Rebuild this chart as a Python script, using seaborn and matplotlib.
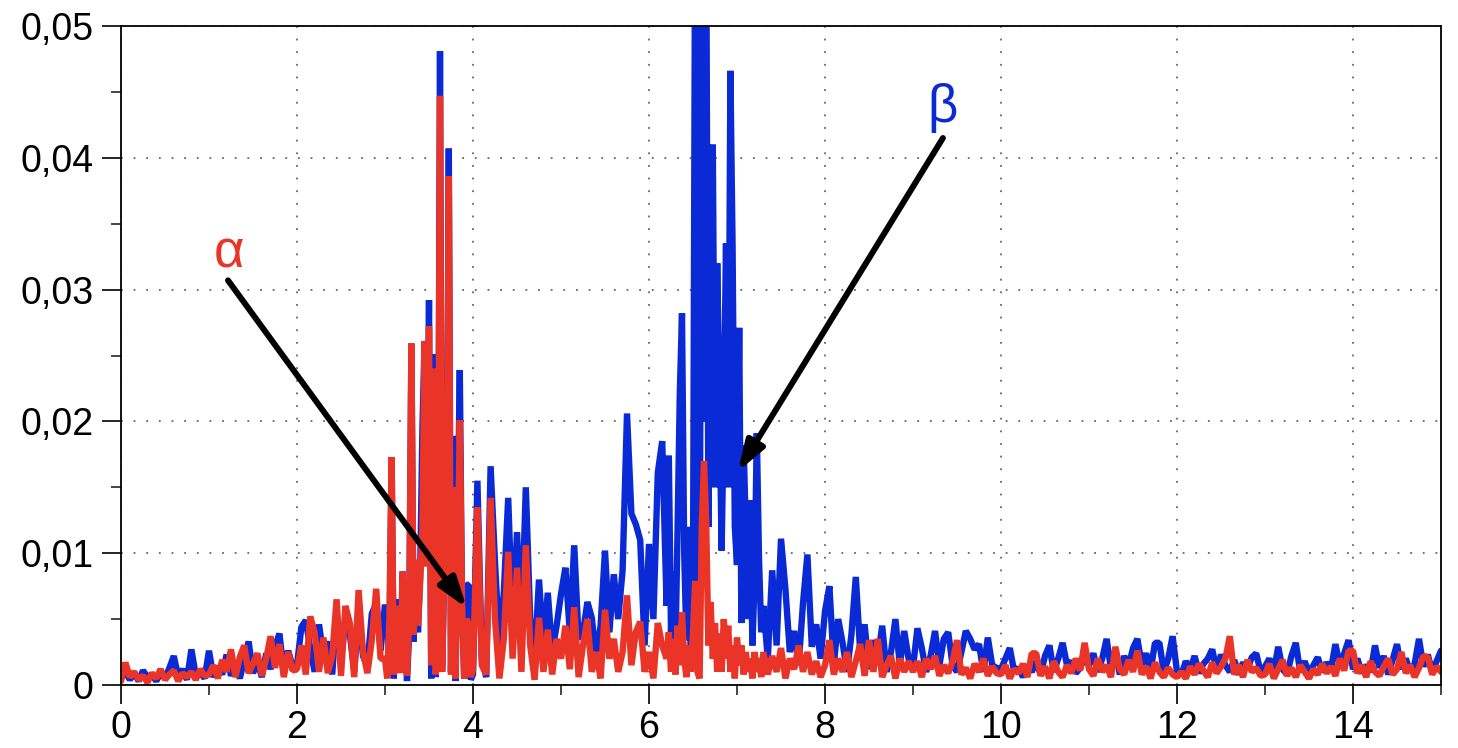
import numpy as np
import pandas as pd
import matplotlib
matplotlib.use("Agg")
import matplotlib.pyplot as plt
import seaborn as sns
from matplotlib.ticker import MultipleLocator, FuncFormatter

# ---------------- data (amplitudes in units of 1e-3) ----------------
# sampling segments: start and step of x for each block of values
seg_starts = [0.0, 3.0, 4.0, 6.2, 7.3]
seg_steps = [0.05, 0.025, 0.05, 0.025, 0.05]

# segment A: x = 0.00 .. 2.95
blue_a = [0.5, 1.0, 0.4, 0.9, 0.3, 1.1, 0.6, 0.8, 0.3, 0.9, 0.5, 1.3, 2.2, 0.6, 1.2, 0.4, 2.7, 0.7, 1.0, 0.5,
          2.6, 0.6, 1.4, 0.8, 2.3, 0.7, 1.6, 0.5, 1.9, 3.3, 0.9, 1.8, 0.6, 2.4, 1.2, 2.9, 3.9, 1.0, 2.6, 1.4,
          1.5, 4.4, 4.9, 2.8, 1.0, 4.6, 2.2, 3.3, 0.8, 5.5, 2.0, 4.8, 3.9, 1.0, 5.6, 2.2, 1.4, 5.4, 6.2, 2.6]
red_a = [0.3, 1.7, 0.6, 1.0, 0.4, 0.7, 0.2, 0.9, 0.5, 1.2, 0.4, 0.8, 1.1, 0.3, 0.9, 0.6, 1.0, 0.4, 1.2, 0.7,
         0.8, 1.5, 0.5, 1.9, 1.0, 2.7, 0.6, 2.1, 3.0, 0.9, 1.6, 2.4, 0.7, 2.0, 3.7, 1.3, 3.1, 0.6, 2.5, 1.1,
         1.2, 3.0, 0.8, 5.2, 4.0, 1.0, 3.6, 0.9, 2.2, 6.5, 0.7, 6.0, 4.7, 0.6, 7.2, 2.5, 0.9, 3.4, 7.3, 2.0]

# segment B: x = 3.000 .. 3.975
blue_b = [6.1, 5.0, 2.0, 17.3, 0.5, 6.5, 4.0, 1.0, 8.6, 4.5,
          0.3, 4.0, 25.9, 3.3, 8.0, 4.0, 8.5, 19.4, 26.1, 11.6,
          29.2, 0.5, 25.1, 0.6, 4.0, 48.1, 1.5, 9.2, 9.0, 40.7,
          1.0, 18.9, 0.3, 12.0, 23.9, 6.0, 0.5, 7.6, 7.6, 0.4]
red_b = [2.0, 0.5, 5.0, 17.3, 0.8, 6.0, 3.5, 0.9, 8.6, 4.0,
         0.7, 5.0, 25.9, 3.8, 9.5, 4.5, 7.9, 11.8, 26.1, 9.0,
         27.2, 1.5, 24.0, 0.8, 3.0, 44.7, 1.0, 8.9, 9.5, 38.6,
         0.8, 15.0, 0.5, 8.0, 20.1, 6.4, 0.5, 5.0, 4.7, 0.6]

# segment C: x = 4.00 .. 6.15
blue_c = [0.8, 15.5, 2.0, 0.6, 16.6, 9.3, 3.0, 7.0, 14.2, 4.5,
          11.6, 4.0, 15.0, 5.0, 2.0, 8.0, 3.0, 7.0, 2.5, 4.5,
          6.9, 8.9, 4.0, 10.6, 3.5, 4.0, 6.3, 5.1, 2.0, 4.5,
          10.2, 4.0, 8.4, 5.0, 8.7, 20.6, 13.0, 12.2, 11.0, 3.0,
          10.7, 5.0, 16.1, 18.5]
red_c = [1.2, 13.5, 1.5, 0.8, 14.2, 5.0, 0.5, 3.5, 10.1, 2.0,
         8.9, 1.0, 10.6, 3.0, 0.4, 5.1, 1.0, 4.2, 0.8, 3.5,
         2.0, 4.5, 1.2, 5.9, 0.6, 3.0, 5.0, 1.0, 2.5, 0.5,
         5.7, 2.0, 3.5, 1.0, 2.5, 6.8, 1.5, 4.0, 4.8, 1.0,
         2.5, 0.5, 4.7, 3.0]

# segment D: x = 6.200 .. 7.275
blue_d = [6.0, 17.4, 4.0, 8.6, 2.5, 12.0, 22.1, 28.2, 10.0, 3.4,
          12.0, 2.5, 8.0, 60.0, 8.0, 1.5, 62.0, 20.0, 58.0, 12.0,
          35.0, 41.0, 15.0, 32.0, 22.0, 10.2, 20.0, 33.5, 15.0, 46.6,
          33.1, 12.0, 9.1, 27.1, 4.7, 18.2, 12.0, 5.0, 14.0, 3.0,
          8.0, 19.1, 9.6, 4.0]
red_d = [2.0, 4.0, 1.0, 3.5, 0.8, 4.5, 1.5, 5.5, 2.0, 0.6,
         3.0, 1.0, 4.0, 7.9, 1.0, 0.5, 12.0, 17.0, 12.3, 3.0,
         6.3, 2.0, 4.7, 1.0, 3.9, 1.0, 5.0, 2.0, 4.5, 1.0,
         3.0, 0.5, 3.6, 1.5, 3.0, 0.8, 2.5, 1.0, 2.0, 0.5,
         2.5, 1.0, 2.0, 0.6]

# segment E: x = 7.30 .. 15.00
blue_e = [6.0, 2.0, 8.7, 3.0, 11.1, 7.3, 2.5, 4.1, 1.5, 6.2, 9.9, 2.9, 4.6, 2.0,
          5.6, 7.5, 1.5, 5.0, 3.2, 1.0, 3.8, 8.2, 2.5, 4.6, 1.2, 3.4, 2.0, 4.5, 1.0, 2.5, 5.0, 1.5, 4.1, 2.0,
          1.3, 4.3, 2.8, 1.0, 2.2, 4.1, 1.5, 3.5, 4.0, 1.5, 1.0, 2.5, 4.1, 3.5, 2.7, 3.1, 1.0, 3.6, 1.5, 1.3,
          1.2, 2.0, 2.8, 1.0, 1.3, 0.6, 1.5, 1.0, 1.8, 0.8, 2.2, 3.0, 1.0, 2.0, 3.2, 1.5, 1.8, 0.9, 1.3, 2.1,
          1.5, 2.4, 1.0, 2.0, 3.5, 1.2, 2.6, 0.8, 2.2, 1.4, 2.8, 3.5, 1.5, 2.4, 1.1, 3.2, 3.2, 1.0, 2.0, 3.7,
          1.0, 0.8, 1.8, 1.2, 2.2, 0.9, 1.6, 2.0, 2.7, 1.1, 2.3, 1.5, 1.0, 1.9, 0.8, 1.7, 1.2, 2.1, 2.4, 1.0,
          1.4, 2.0, 1.0, 2.9, 1.2, 0.8, 2.2, 3.2, 1.0, 1.8, 0.9, 1.5, 2.1, 1.0, 1.7, 1.2, 3.1, 1.5, 2.4, 3.4,
          1.2, 2.0, 0.9, 1.5, 1.0, 3.0, 1.3, 2.2, 0.8, 1.9, 3.1, 1.2, 2.0, 1.0, 1.6, 3.5, 1.4, 2.3, 1.0, 1.8, 2.6]
red_e = [2.5, 0.8, 2.2, 1.0, 2.8, 0.5, 2.0, 1.2, 3.0, 1.0, 2.5, 0.8, 1.8, 0.6,
         1.5, 3.4, 0.8, 2.0, 1.0, 2.5, 0.6, 1.8, 3.1, 0.7, 3.4, 1.0, 3.5, 0.6, 1.5, 2.2, 0.5, 2.0, 1.0, 1.8,
         1.0, 1.8, 0.6, 2.0, 1.2, 2.2, 0.7, 1.5, 0.9, 1.8, 3.4, 0.8, 1.3, 0.5, 1.6, 1.0, 2.0, 0.7, 1.4, 0.9,
         0.8, 1.5, 0.5, 1.2, 0.9, 1.6, 0.6, 2.4, 2.4, 0.7, 1.4, 0.5, 1.8, 1.0, 0.6, 1.5, 0.9, 2.0, 1.1, 3.2,
         1.2, 0.7, 2.0, 1.0, 1.5, 0.6, 2.9, 1.2, 0.8, 1.9, 1.0, 2.6, 0.8, 1.4, 0.5, 1.7, 1.0, 0.6, 1.3, 0.8,
         0.6, 1.0, 0.5, 1.4, 0.8, 1.6, 1.1, 0.6, 1.7, 0.9, 1.4, 2.0, 3.7, 0.8, 1.5, 0.6, 1.9, 1.0, 1.3, 0.7,
         0.8, 1.6, 0.5, 1.2, 1.9, 0.7, 1.3, 0.6, 1.5, 1.0, 0.5, 1.2, 0.8, 1.6, 0.9, 1.4, 0.7, 2.0, 1.1, 2.6,
         2.6, 0.9, 1.5, 0.6, 1.8, 1.0, 0.7, 1.4, 2.0, 0.8, 1.2, 2.5, 0.9, 1.5, 0.6, 1.3, 2.2, 2.1, 0.8, 1.4, 1.0]

x_ticks = [0, 2, 4, 6, 8, 10, 12, 14]
y_ticks = [0.0, 0.01, 0.02, 0.03, 0.04, 0.05]
label_alpha = "α"
label_beta = "β"

BLUE = "#0A2AD6"
RED = "#E93427"


def build(segments):
    xs, ys = [], []
    for start, step, vals in zip(seg_starts, seg_steps, segments):
        xs.append(start + step * np.arange(len(vals)))
        ys.append(np.asarray(vals) * 1e-3)
    return pd.DataFrame({"x": np.concatenate(xs), "y": np.concatenate(ys)})


df_blue = build([blue_a, blue_b, blue_c, blue_d, blue_e])
df_red = build([red_a, red_b, red_c, red_d, red_e])

# ---------------- figure ----------------
sns.set_style("ticks")
plt.rcParams["font.family"] = ["Liberation Sans", "DejaVu Sans"]

fig = plt.figure(figsize=(14.58, 7.48), dpi=100)
ax = fig.add_axes([121 / 1458, 63 / 748, 1320 / 1458, 659 / 748])

sns.lineplot(data=df_blue, x="x", y="y", color=BLUE, lw=4.6, estimator=None,
             sort=False, ax=ax)
sns.lineplot(data=df_red, x="x", y="y", color=RED, lw=4.6, estimator=None,
             sort=False, ax=ax)
for ln in ax.lines:
    ln.set_solid_joinstyle("bevel")

ax.set_xlim(0, 15)
ax.set_ylim(0, 0.05)
ax.set_xlabel("")
ax.set_ylabel("")

ax.xaxis.set_major_locator(MultipleLocator(2))
ax.xaxis.set_minor_locator(MultipleLocator(1))
ax.yaxis.set_major_locator(MultipleLocator(0.01))
ax.yaxis.set_minor_locator(MultipleLocator(0.005))
ax.set_xticks(x_ticks)
ax.set_yticks(y_ticks)
ax.xaxis.set_major_formatter(FuncFormatter(lambda v, p: f"{v:g}"))
ax.yaxis.set_major_formatter(
    FuncFormatter(lambda v, p: "0" if abs(v) < 1e-9 else f"{v:.2f}".replace(".", ",")))

ax.tick_params(which="major", length=14, width=1.2, direction="out",
               labelsize=27, pad=4, colors="black")
ax.tick_params(which="minor", length=7, width=1.2, direction="out")
ax.tick_params(axis="y", which="major", pad=6)

ax.grid(True, which="major", linestyle=(0, (1, 6)), color="#666666", lw=1.3)
ax.set_axisbelow(True)
for s in ax.spines.values():
    s.set_visible(True)
    s.set_color("black")
    s.set_linewidth(1.3)

# annotations
ax.text(1.227, 0.0317, label_alpha, color=RED, fontsize=38, ha="center",
        va="baseline")
ax.text(9.34, 0.0427, label_beta, color=BLUE, fontsize=38, ha="center",
        va="baseline")
arrow_kw = dict(arrowstyle="-|>,head_length=0.9,head_width=0.3", lw=4.3,
                color="black", shrinkA=0, shrinkB=0, mutation_scale=20)
ax.annotate("", xy=(3.93, 0.00584), xytext=(1.216, 0.0307), arrowprops=arrow_kw)
ax.annotate("", xy=(7.01, 0.0162), xytext=(9.34, 0.0415), arrowprops=arrow_kw)

fig.savefig("out.png", dpi=100)
